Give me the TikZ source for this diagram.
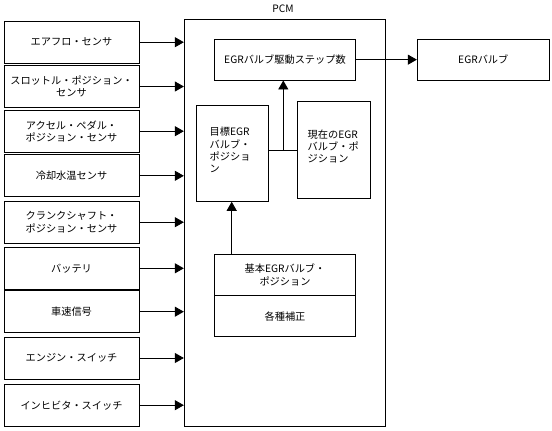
\documentclass[tikz,border=0pt]{standalone}
\usepackage{fontspec}
\setmainfont{Noto Sans CJK JP}
\usetikzlibrary{arrows.meta}
\begin{document}
\begin{tikzpicture}[x=1pt,y=-1pt,
  every node/.style={font=\fontsize{10.2}{12.3}\selectfont, inner sep=0pt},
  box/.style={draw, line width=0.9pt},
  inbox/.style={box, minimum width=135pt, minimum height=42pt, align=center},
  arr/.style={line width=0.9pt, -{Triangle[length=9pt,width=10pt]}},
  ln/.style={line width=0.9pt}]
\useasboundingbox (0,0) rectangle (552,431);
% inputs
\node[inbox] (b1) at (71.5,42.2) {エアフロ・センサ};
\node[inbox] (b2) at (71.5,86.5) {スロットル・ポジション・\\センサ};
\node[inbox] (b3) at (71.5,131.2) {アクセル・ペダル・\\ポジション・センサ};
\node[inbox] (b4) at (71.5,175.8) {冷却水温センサ};
\node[inbox] (b5) at (71.5,222.2) {クランクシャフト・\\ポジション・センサ};
\node[inbox] (b6) at (71.5,268.3) {バッテリ};
\node[inbox] (b7) at (71.5,311.7) {車速信号};
\node[inbox] (b8) at (71.5,358) {エンジン・スイッチ};
\node[inbox] (b9) at (71.5,405.2) {インヒビタ・スイッチ};
% PCM
\node[box, minimum width=200.7pt, minimum height=407.7pt] (pcm) at (284.65,222.85) {};
\node (pcmlabel) at (283,9) {PCM};
\foreach \i in {1,...,9} {
  \draw[arr] (b\i.east) -- (b\i.east -| pcm.west);
}
% inner boxes
\node[box, minimum width=141.4pt, minimum height=40.7pt] (drive) at (285,59.65) {EGRバルブ駆動ステップ数};
\node[box, minimum width=132pt, minimum height=40.7pt] (valve) at (483.3,59.65) {EGRバルブ};
\draw[arr] (drive.east) -- (valve.west);
\node[box, minimum width=71.6pt, minimum height=96pt] (target) at (232.5,153.3) {};
\node[anchor=north west, align=left] (targett) at (209.5,127) {目標EGR\\バルブ・\\ポジショ\\ン};
\node[box, minimum width=72.7pt, minimum height=96.6pt] (current) at (333.65,150) {};
\node[anchor=north west, align=left] (currentt) at (307.5,129.5) {現在のEGR\\バルブ・ポ\\ジション};
\coordinate (jn) at (283.3,150.7);
\draw[ln] (target.east |- jn) -- (current.west |- jn);
\draw[arr] (jn) -- (jn |- drive.south);
\node[box, minimum width=141.4pt, minimum height=41.4pt, align=center] (base) at (285,275) {基本EGRバルブ・\\ポジション};
\node[box, minimum width=141.4pt, minimum height=41pt] (corr) at (285,316.2) {各種補正};
\coordinate (bs) at (231.7,254.3);
\draw[arr] (bs) -- (bs |- target.south);
\end{tikzpicture}
\end{document}
